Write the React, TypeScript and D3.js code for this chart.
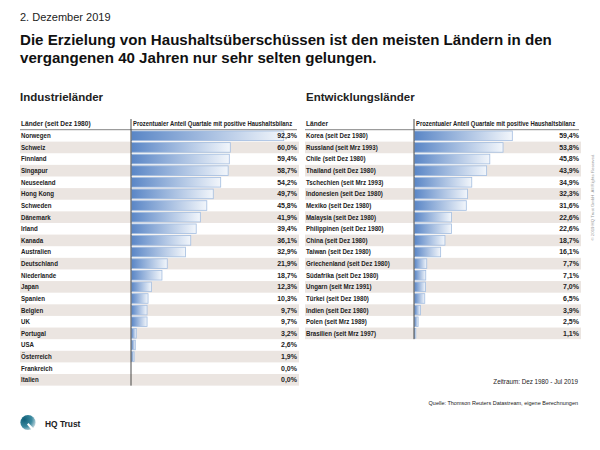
import React from "react";
import * as d3 from "d3";

const industrieLaender = ["Norwegen","Schweiz","Finnland","Singapur","Neuseeland","Hong Kong","Schweden","Dänemark","Irland","Kanada","Australien","Deutschland","Niederlande","Japan","Spanien","Belgien","UK","Portugal","USA","Österreich","Frankreich","Italien"];
const industrieWerte = [92.3,60.0,59.4,58.7,54.2,49.7,45.8,41.9,39.4,36.1,32.9,21.9,18.7,12.3,10.3,9.7,9.7,3.2,2.6,1.9,0.0,0.0];

const entwicklungsLaender = ["Korea (seit Dez 1980)","Russland (seit Mrz 1993)","Chile (seit Dez 1980)","Thailand (seit Dez 1980)","Tschechien (seit Mrz 1993)","Indonesien (seit Dez 1980)","Mexiko (seit Dez 1980)","Malaysia (seit Dez 1980)","Philippinen (seit Dez 1980)","China (seit Dez 1980)","Taiwan (seit Dez 1980)","Griechenland (seit Dez 1980)","Südafrika (seit Dez 1980)","Ungarn (seit Mrz 1991)","Türkei (seit Dez 1980)","Indien (seit Dez 1980)","Polen (seit Mrz 1989)","Brasilien (seit Mrz 1997)"];
const entwicklungsWerte = [59.4,53.8,45.8,43.9,34.9,32.3,31.6,22.6,22.6,18.7,16.1,7.7,7.1,7.0,6.5,3.9,2.5,1.1];

const headerLinks = "Länder (seit Dez 1980)";
const headerRechts = "Länder";
const headerWert = "Prozentualer Anteil Quartale mit positive Haushaltsbilanz";

const NARROW = "'Liberation Sans Narrow', 'Arial Narrow', sans-serif";
const SANS = "'Liberation Sans', Arial, Helvetica, sans-serif";
const ROW_H = 11.62;
const TOP = 130;

function fmt(v: number) {
  return d3.format(".1f")(v).replace(".", ",") + "%";
}

function Table({ x0, axisX, x1, names, values, header }: { x0: number; axisX: number; x1: number; names: string[]; values: number[]; header: string }) {
  const y = d3.scaleBand<string>().domain(names).range([TOP, TOP + names.length * ROW_H]).padding(0);
  const x = d3.scaleLinear().domain([0, 100]).range([axisX, axisX + 165.5]);
  const bottom = TOP + names.length * ROW_H;
  return (
    <g>
      {names.map((n, i) =>
        i % 2 === 1 ? (
          <rect key={"s" + n} x={x0} y={y(n)!} width={x1 - x0 + 2} height={y.bandwidth()} fill="#ebe5e1" />
        ) : null
      )}
      {names.map((n, i) =>
        values[i] > 0 ? (
          <rect
            key={"b" + n}
            x={x(0) + 0.5}
            y={y(n)! + 1}
            width={Math.max(0, x(values[i]) - x(0) - 0.5)}
            height={y.bandwidth() - 2}
            fill="url(#barGrad)"
            stroke="#a3bde0"
            strokeWidth={0.8}
          />
        ) : null
      )}
      {names.map((n) => (
        <text key={"l" + n} transform={`translate(${x0 + 1},${y(n)! + y.bandwidth() / 2 + 2.4}) scale(0.88,1)`} fontFamily={NARROW} fontWeight="bold" fontSize={7} fill="#222">
          {n}
        </text>
      ))}
      {names.map((n, i) => (
        <text key={"v" + n} x={x1} y={y(n)! + y.bandwidth() / 2 + 2.4} textAnchor="end" fontFamily={NARROW} fontWeight="bold" fontSize={7} fill="#222">
          {fmt(values[i])}
        </text>
      ))}
      <text x={x0 + 1} y={126} fontFamily={NARROW} fontWeight="bold" fontSize={6.6} fill="#222">{header}</text>
      <text transform={`translate(${axisX + 2},126) scale(0.89,1)`} fontFamily={NARROW} fontWeight="bold" fontSize={6.6} fill="#222">{headerWert}</text>
      <line x1={x0} x2={x1} y1={TOP - 0.3} y2={TOP - 0.3} stroke="#333" strokeWidth={0.6} />
      <line x1={axisX} x2={axisX} y1={119} y2={bottom} stroke="#333" strokeWidth={0.9} />
    </g>
  );
}

export default function App() {
  return (
    <svg width={600} height={450} viewBox="0 0 600 450" style={{ position: "absolute", left: 0, top: 0, background: "#fff" }}>
      <defs>
        <linearGradient id="barGrad" x1="0" x2="1" y1="0" y2="0">
          <stop offset="0%" stopColor="#5a86c6" />
          <stop offset="100%" stopColor="#f2f6fb" />
        </linearGradient>
        <radialGradient id="logoGrad" cx="0.25" cy="0.3" r="0.9">
          <stop offset="0%" stopColor="#0f5f78" />
          <stop offset="55%" stopColor="#3c8aa0" />
          <stop offset="100%" stopColor="#e6ecef" />
        </radialGradient>
      </defs>
      <rect width={600} height={450} fill="#fff" />
      <text x={20} y={21} fontFamily={SANS} fontSize={11} fill="#222">2. Dezember 2019</text>
      <text x={20} y={45} fontFamily={SANS} fontWeight="bold" fontSize={15.1} fill="#111">Die Erzielung von Haushaltsüberschüssen ist den meisten Ländern in den</text>
      <text x={20} y={63} fontFamily={SANS} fontWeight="bold" fontSize={15.1} fill="#111">vergangenen 40 Jahren nur sehr selten gelungen.</text>
      <text x={20} y={101} fontFamily={SANS} fontWeight="bold" fontSize={11.5} fill="#222">Industrieländer</text>
      <text x={306} y={101} fontFamily={SANS} fontWeight="bold" fontSize={11.5} fill="#222">Entwicklungsländer</text>

      <Table x0={20} axisX={131} x1={297} names={industrieLaender} values={industrieWerte} header={headerLinks} />
      <Table x0={305} axisX={414} x1={579} names={entwicklungsLaender} values={entwicklungsWerte} header={headerRechts} />

      <text x={578} y={384} textAnchor="end" fontFamily={NARROW} fontSize={6.3} fill="#222">Zeitraum: Dez 1980 - Jul 2019</text>
      <text x={578} y={405} textAnchor="end" fontFamily={NARROW} fontSize={5.5} fill="#222">Quelle: Thomson Reuters Datastream, eigene Berechnungen</text>

      <text transform="translate(594,197) rotate(-90)" textAnchor="middle" fontFamily={SANS} fontSize={4.3} fill="#999">© 2019 HQ Trust GmbH. All Rights Reserved.</text>

      <g>
        <circle cx={28} cy={422.5} r={7.6} fill="url(#logoGrad)" />
        <path d="M28.5,423 L36,431 L33,431.5 L27,424.5 Z" fill="#fff" />
        <text x={45} y={427} fontFamily={SANS} fontWeight="bold" fontSize={8.4} fill="#222">HQ Trust</text>
      </g>
    </svg>
  );
}
